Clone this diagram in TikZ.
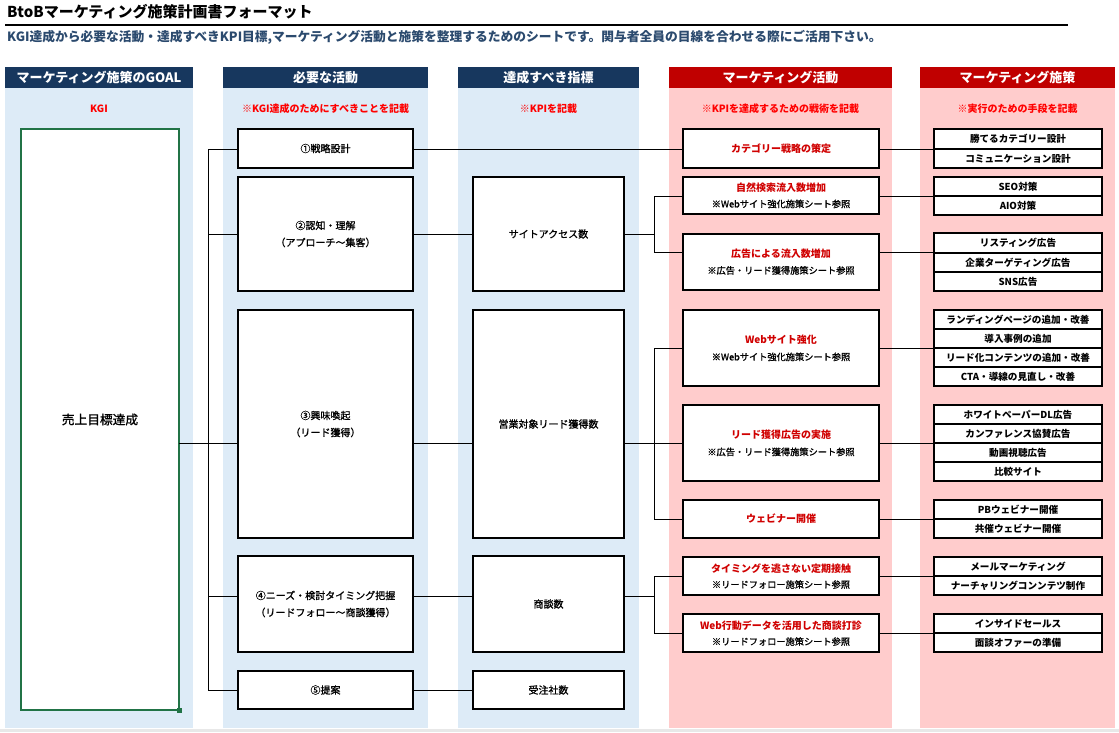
\documentclass[tikz,border=0pt]{standalone}
\usepackage{fontspec}
\setmainfont{Noto Sans CJK JP}
\newfontfamily\medjp[FakeBold=1.2]{Noto Sans CJK JP}
\definecolor{navy}{HTML}{17375E}
\definecolor{lblue}{HTML}{DDEBF7}
\definecolor{dred}{HTML}{C00000}
\definecolor{pinkbg}{HTML}{FFCCCC}
\definecolor{subred}{HTML}{FF0000}
\definecolor{boxred}{HTML}{D00000}
\definecolor{subblue}{HTML}{2B4A6E}
\definecolor{xlgreen}{HTML}{217346}
\newcommand\mybox[7]{\node[#1, minimum width={(#5-#3)*1pt}, minimum height={(#6-#4)*1pt}] (#2) at ({(#3+#5)/2},{(#4+#6)/2}) {#7};}
\newcommand\cellbox[4]{\node[cfive, minimum height={(#3-#2)*1pt}] (#1) at (1018,{(#2+#3)/2}) {#4};}
\newcommand\ttlr[1]{\textcolor{boxred}{\bfseries #1}}
\newcommand\notr[1]{{\medjp\fontsize{9.2}{10}\selectfont #1}}
\begin{document}
\begin{tikzpicture}[x=1pt,y=-1pt,
  hdr/.style={fill=#1, text=white, inner sep=0pt, minimum height=21pt, font={\fontsize{13}{13}\selectfont\bfseries}},
  subh/.style={text=subred, inner sep=0pt, font={\fontsize{10}{10}\selectfont\bfseries}},
  bx/.style={draw=black, line width=2pt, outer sep=0pt, fill=white, inner sep=0pt, align=center, font={\medjp\fontsize{10}{17}\selectfont}},
  bxr/.style={draw=black, line width=2pt, outer sep=0pt, fill=white, inner sep=0pt, align=center, font={\fontsize{10}{16}\selectfont}},
  cfive/.style={draw=black, line width=2pt, outer sep=0pt, fill=white, inner sep=0pt, minimum width=168pt, font={\fontsize{9.6}{10}\selectfont\bfseries}},
  ln/.style={line width=1pt, draw=black}]
\useasboundingbox (0,0) rectangle (1119,732);
\fill[white] (0,0) rectangle (1119,732);
\fill[black!9] (0,729) rectangle (1119,732);
% title
\node[anchor=west, inner sep=0pt, font={\fontsize{15}{15}\selectfont\bfseries}] (title) at (7,12) {BtoBマーケティング施策計画書フォーマット};
\draw[line width=2pt] (5,25) -- (1068,25);
\node[anchor=west, inner sep=0pt, text=subblue, font={\fontsize{12.75}{13}\selectfont\bfseries}] (subt) at (7,37) {KGI達成から必要な活動・達成すべきKPI目標,マーケティング活動と施策を整理するためのシートです。関与者全員の目線を合わせる際にご活用下さい。};
% column backgrounds
\fill[lblue] (5,88) rectangle (193,728);
\fill[lblue] (223,88) rectangle (428,728);
\fill[lblue] (458,88) rectangle (639,728);
\fill[pinkbg] (669,88) rectangle (892,728);
\fill[pinkbg] (920,88) rectangle (1115,728);
% headers
\node[hdr=navy, minimum width=188pt] (h1) at (99,77.5) {マーケティング施策のGOAL};
\node[hdr=navy, minimum width=205pt] (h2) at (325.5,77.5) {必要な活動};
\node[hdr=navy, minimum width=181pt] (h3) at (548.5,77.5) {達成すべき指標};
\node[hdr=dred, minimum width=223pt] (h4) at (780.5,77.5) {マーケティング活動};
\node[hdr=dred, minimum width=195pt] (h5) at (1017.5,77.5) {マーケティング施策};
% sub headers
\node[subh] (s1) at (99,109) {KGI};
\node[subh] (s2) at (325.5,109) {※KGI達成のためにすべきことを記載};
\node[subh] (s3) at (548.5,109) {※KPIを記載};
\node[subh] (s4) at (780.5,109) {※KPIを達成するための戦術を記載};
\node[subh] (s5) at (1017.5,109) {※実行のための手段を記載};
% KGI box
\node[draw=xlgreen, line width=2pt, outer sep=0pt, fill=white, inner sep=0pt, minimum width=158pt, minimum height=581pt, font={\medjp\fontsize{12.7}{13}\selectfont}] (kgi) at (100,419.5) {売上目標達成};
\fill[xlgreen] (176.5,707.5) rectangle (181.5,712.5);
% column 2
\mybox{bx}{a1}{238}{129}{413}{168}{①戦略設計}
\mybox{bx}{a2}{238}{177}{413}{291}{②認知・理解\\（アプローチ～集客）}
\mybox{bx}{a3}{238}{310}{413}{538}{③興味喚起\\（リード獲得）}
\mybox{bx}{a4}{238}{556}{413}{652}{④ニーズ・検討タイミング把握\\（リードフォロー～商談獲得）}
\mybox{bx}{a5}{238}{671}{413}{709}{⑤提案}
% column 3
\mybox{bx}{k1}{473}{177}{624}{291}{サイトアクセス数}
\mybox{bx}{k2}{473}{310}{624}{538}{営業対象リード獲得数}
\mybox{bx}{k3}{473}{556}{624}{652}{商談数}
\mybox{bx}{k4}{473}{671}{624}{709}{受注社数}
% column 4
\mybox{bxr}{m1}{683}{129}{879}{168}{\ttlr{カテゴリー戦略の策定}}
\mybox{bxr}{m2}{683}{177}{879}{214}{\ttlr{自然検索流入数増加}\\\notr{※Webサイト強化施策シート参照}}
\mybox{bxr}{m3}{683}{234}{879}{290}{\ttlr{広告による流入数増加}\\\notr{※広告・リード獲得施策シート参照}}
\mybox{bxr}{m4}{683}{310}{879}{386}{\ttlr{Webサイト強化}\\[1pt]\notr{※Webサイト強化施策シート参照}}
\mybox{bxr}{m5}{683}{405}{879}{481}{\ttlr{リード獲得広告の実施}\\[1pt]\notr{※広告・リード獲得施策シート参照}}
\mybox{bxr}{m6}{683}{500}{879}{538}{\ttlr{ウェビナー開催}}
\mybox{bxr}{m7}{683}{557}{879}{595}{\ttlr{タイミングを逃さない定期接触}\\\notr{※リードフォロー施策シート参照}}
\mybox{bxr}{m8}{683}{614}{879}{652}{\ttlr{Web行動データを活用した商談打診}\\\notr{※リードフォロー施策シート参照}}
% column 5
\cellbox{g1a}{129}{149}{勝てるカテゴリー設計}
\cellbox{g1b}{149}{168}{コミュニケーション設計}
\cellbox{g2a}{177}{196}{SEO対策}
\cellbox{g2b}{196}{215}{AIO対策}
\cellbox{g3a}{233}{253}{リスティング広告}
\cellbox{g3b}{253}{272}{企業ターゲティング広告}
\cellbox{g3c}{272}{291}{SNS広告}
\cellbox{g4a}{310}{329}{ランディングページの追加・改善}
\cellbox{g4b}{329}{348}{導入事例の追加}
\cellbox{g4c}{348}{367}{リード化コンテンツの追加・改善}
\cellbox{g4d}{367}{386}{CTA・導線の見直し・改善}
\cellbox{g5a}{405}{424}{ホワイトペーパーDL広告}
\cellbox{g5b}{424}{443}{カンファレンス協賛広告}
\cellbox{g5c}{443}{462}{動画視聴広告}
\cellbox{g5d}{462}{481}{比較サイト}
\cellbox{g6a}{500}{519}{PBウェビナー開催}
\cellbox{g6b}{519}{538}{共催ウェビナー開催}
\cellbox{g7a}{557}{576}{メールマーケティング}
\cellbox{g7b}{576}{595}{ナーチャリングコンンテツ制作}
\cellbox{g8a}{614}{633}{インサイドセールス}
\cellbox{g8b}{633}{652}{面談オファーの準備}
% connectors: goal -> activities
\coordinate (tA) at (208,149);
\coordinate (tB) at (208,690);
\draw[ln] (tA) -- (tB);
\draw[ln] (kgi.east |- 0,443) -- (a3.west |- 0,443);
\draw[ln] (tA) -- (a1.west |- tA);
\draw[ln] (a2.west -| tA) -- (a2.west);
\draw[ln] (tA |- 0,596) -- (a4.west |- 0,596);
\draw[ln] (a5.west -| tA) -- (a5.west);
% activities -> KPIs
\draw[ln] (a1.east |- 0,149) -- (m1.west |- 0,149);
\draw[ln] (a2.east) -- (k1.west);
\draw[ln] (a3.east |- 0,443) -- (k2.west |- 0,443);
\draw[ln] (a4.east |- 0,596) -- (k3.west |- 0,596);
\draw[ln] (a5.east) -- (k4.west);
% KPIs -> marketing activities
\coordinate (tC) at (654,196);
\coordinate (tD) at (654,252);
\draw[ln] (k1.east) -- (k1.east -| tC);
\draw[ln] (tC) -- (tD);
\draw[ln] (tC) -- (m2.west |- tC);
\draw[ln] (tD) -- (m3.west |- tD);
\coordinate (tE) at (654,348);
\coordinate (tF) at (654,519);
\draw[ln] (k2.east |- 0,443) -- (tE |- 0,443);
\draw[ln] (tE) -- (tF);
\draw[ln] (tE) -- (m4.west |- tE);
\draw[ln] (tE |- 0,443) -- (m5.west |- 0,443);
\draw[ln] (tF) -- (m6.west |- tF);
\coordinate (tG) at (654,576);
\coordinate (tH) at (654,633);
\draw[ln] (k3.east |- 0,596) -- (tG |- 0,596);
\draw[ln] (tG) -- (tH);
\draw[ln] (tG) -- (m7.west |- tG);
\draw[ln] (tH) -- (m8.west |- tH);
% marketing activities -> measures
\draw[ln] (m1.east |- 0,149) -- (g1a.west |- 0,149);
\draw[ln] (m2.east |- 0,196) -- (g2a.west |- 0,196);
\draw[ln] (m3.east |- 0,252) -- (g3a.west |- 0,252);
\draw[ln] (m4.east |- 0,348) -- (g4b.west |- 0,348);
\draw[ln] (m5.east |- 0,443) -- (g5b.west |- 0,443);
\draw[ln] (m6.east |- 0,519) -- (g6a.west |- 0,519);
\draw[ln] (m7.east |- 0,576) -- (g7a.west |- 0,576);
\draw[ln] (m8.east |- 0,633) -- (g8a.west |- 0,633);
\end{tikzpicture}
\end{document}
